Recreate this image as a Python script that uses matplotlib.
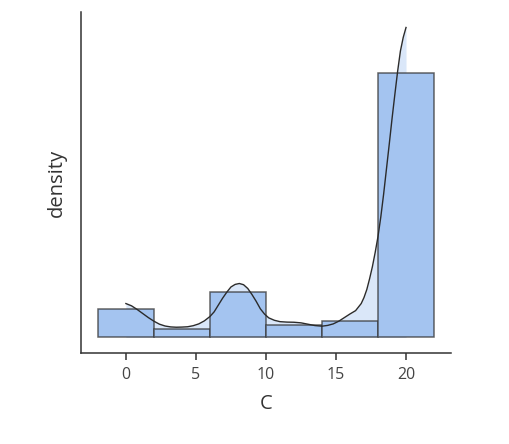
import matplotlib
matplotlib.use("Agg")
import matplotlib.pyplot as plt

# histogram bins (edges) and density heights
bin_edges = [-2, 2, 6, 10, 14, 18, 22]
bin_heights = [0.0190, 0.0053, 0.0300, 0.0084, 0.0111, 0.1757]

# kde curve, read point by point
kde_x = [0.0, 0.4, 0.8, 1.2, 1.6, 2.0, 2.4, 2.8, 3.2, 3.6, 4.0, 4.4, 4.8,
         5.2, 5.6, 6.0, 6.3, 6.6, 6.9, 7.2, 7.5, 7.8, 8.1, 8.4, 8.7, 9.0,
         9.3, 9.6, 9.9, 10.2, 10.6, 11.0, 11.5, 12.0, 12.5, 13.0, 13.5, 14.0,
         14.4, 14.8, 15.2, 15.6, 16.0, 16.4, 16.8, 17.0, 17.2, 17.4, 17.6,
         17.8, 18.0, 18.2, 18.4, 18.6, 18.8, 19.0, 19.2, 19.4, 19.6, 19.8,
         20.0]
kde_y = [0.0225, 0.0210, 0.0186, 0.0159, 0.0132, 0.0108, 0.0088, 0.0076,
         0.0070, 0.0068, 0.0069, 0.0071, 0.0078, 0.0090, 0.0110, 0.0139,
         0.0170, 0.0215, 0.0260, 0.0300, 0.0335, 0.0352, 0.0358, 0.0350,
         0.0325, 0.0285, 0.0240, 0.0190, 0.0155, 0.0130, 0.0114, 0.0105,
         0.0102, 0.0101, 0.0097, 0.0088, 0.0079, 0.0075, 0.0080, 0.0090,
         0.0108, 0.0132, 0.0156, 0.0178, 0.0225, 0.0265, 0.0318, 0.0390,
         0.0470, 0.0565, 0.0670, 0.0800, 0.0950, 0.1115, 0.1280, 0.1450,
         0.1610, 0.1765, 0.1900, 0.1990, 0.2056]

plt.rcParams['font.family'] = ['Open Sans', 'DejaVu Sans']

fig = plt.figure(figsize=(5.1, 4.44), dpi=100)
ax = fig.add_axes([0.159, 0.205, 0.725, 0.768])

bar_color = '#a4c4f0'
ax.fill_between(kde_x, kde_y, color=bar_color, alpha=0.4, linewidth=0, zorder=1)
widths = [b - a for a, b in zip(bin_edges[:-1], bin_edges[1:])]
ax.bar(bin_edges[:-1], bin_heights, width=widths, align='edge',
       color=bar_color, edgecolor=(0.2, 0.2, 0.2, 0.75), linewidth=1.1, zorder=2)
ax.plot(kde_x, kde_y, color='#2b2b2b', linewidth=1.0, zorder=3)

ax.set_xlim(-3.2, 23.2)
ax.set_ylim(-0.05 * 0.2056, 1.05 * 0.2056)
ax.set_xticks([0, 5, 10, 15, 20])
ax.set_yticks([])
ax.tick_params(axis='x', length=5, width=1.1, color='#333333', labelsize=11.5,
               labelcolor='#444444', pad=5)
for spine in ['top', 'right']:
    ax.spines[spine].set_visible(False)
for spine in ['left', 'bottom']:
    ax.spines[spine].set_color('#333333')
    ax.spines[spine].set_linewidth(1.1)
ax.set_xlabel('C', fontsize=14.5, color='#333333', labelpad=8)
ax.set_ylabel('density', fontsize=14.5, color='#333333', labelpad=10)

fig.savefig('out.png', dpi=100)
